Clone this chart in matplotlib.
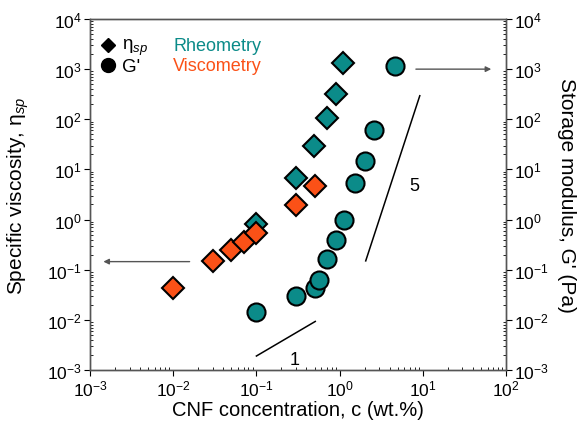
import matplotlib
matplotlib.use("Agg")
import matplotlib.pyplot as plt
from matplotlib.ticker import LogLocator, NullFormatter

plt.rcParams['font.family'] = ['Liberation Sans', 'DejaVu Sans']
plt.rcParams['mathtext.fontset'] = 'custom'
plt.rcParams['mathtext.rm'] = 'Liberation Sans'
plt.rcParams['mathtext.it'] = 'Liberation Sans:italic'

teal = '#0b8b89'
orange = '#fb5117'

# specific viscosity, rheometry (diamonds)
c_rheo = [0.1, 0.3, 0.49, 0.71, 0.9, 1.1]
eta_rheo = [0.83, 6.6, 30, 106, 316, 1320]

# specific viscosity, viscometry (diamonds)
c_visc = [0.01, 0.03, 0.05, 0.07, 0.1, 0.3, 0.5]
eta_visc = [0.044, 0.15, 0.25, 0.36, 0.54, 1.96, 4.7]

# storage modulus G' (circles)
c_g = [0.1, 0.3, 0.5, 0.56, 0.71, 0.9, 1.12, 1.55, 2.04, 2.6, 4.6]
g_prime = [0.0145, 0.030, 0.044, 0.063, 0.16, 0.39, 0.98, 5.3, 14.4, 61, 1170]

fig = plt.figure(figsize=(5.87, 4.27), dpi=100)
ax = fig.add_axes([90/587, 1-371/427, 416/587, 351/427])
ax2 = ax.twinx()

for a in (ax, ax2):
    a.set_xscale('log')
    a.set_yscale('log')
    a.set_xlim(1e-3, 1e2)
    a.set_ylim(1e-3, 1e4)
    a.yaxis.set_major_locator(LogLocator(base=10, numticks=20))
    a.yaxis.set_minor_locator(LogLocator(base=10, subs=range(2, 10), numticks=20))
    a.yaxis.set_minor_formatter(NullFormatter())
    a.tick_params(which='major', direction='out', length=4, width=0.8, labelsize=12.5, pad=2)
    a.tick_params(which='minor', direction='in', length=2, width=0.6)
    for s in a.spines.values():
        s.set_color('#555555')
        s.set_linewidth(1.0)

ax.xaxis.set_major_locator(LogLocator(base=10, numticks=20))
ax.xaxis.set_minor_locator(LogLocator(base=10, subs=range(2, 10), numticks=20))
ax.xaxis.set_minor_formatter(NullFormatter())

# slope guide lines
ax.plot([2.06, 9.2], [0.15, 295], color='black', lw=1.1)
ax.text(7.9, 4.7, '5', fontsize=13, ha='center', va='center')
ax.plot([0.1, 0.51], [0.0019, 0.0093], color='black', lw=1.1)
ax.text(0.285, 0.0016, '1', fontsize=13, ha='center', va='center')

ax.plot(c_rheo, eta_rheo, 'D', color=teal, mec='black', mew=1.5, ms=11, zorder=5)
ax.plot(c_visc, eta_visc, 'D', color=orange, mec='black', mew=1.5, ms=11, zorder=6)
ax2.plot(c_g, g_prime, 'o', color=teal, mec='black', mew=1.5, ms=13, zorder=5)

# arrows pointing to the axes
ax.annotate('', xy=(0.00134, 0.145), xytext=(0.017, 0.145),
            arrowprops=dict(arrowstyle='-|>', color='#555555', lw=1.0, mutation_scale=8))
ax2.annotate('', xy=(71.8, 1000), xytext=(7.65, 1000),
             arrowprops=dict(arrowstyle='-|>', color='#555555', lw=1.0, mutation_scale=8))

# legend made by hand
ax.plot([0.043], [0.925], 'D', color='black', ms=7, transform=ax.transAxes, clip_on=False)
ax.plot([0.043], [0.870], 'o', color='black', ms=10, transform=ax.transAxes, clip_on=False)
ax.text(0.077, 0.914, r'$\mathregular{\eta}_{\mathit{sp}}$', transform=ax.transAxes,
        fontsize=13.5, va='baseline')
ax.text(0.077, 0.852, "G'", transform=ax.transAxes, fontsize=13.5, va='baseline')
ax.text(0.2, 0.912, 'Rheometry', color=teal, transform=ax.transAxes, fontsize=13, va='baseline')
ax.text(0.2, 0.856, 'Viscometry', color=orange, transform=ax.transAxes, fontsize=13, va='baseline')

ax.set_xlabel('CNF concentration, c (wt.%)', fontsize=14.5, labelpad=1)
ax.set_ylabel(r'Specific viscosity, η$_{\mathit{sp}}$', fontsize=15, va='center')
ax2.set_ylabel("Storage modulus, G' (Pa)", fontsize=15, rotation=270, va='center')
ax.yaxis.set_label_coords(-0.172, 0.5)
ax2.yaxis.set_label_coords(1.146, 0.5)

fig.savefig('out.png', dpi=100)
